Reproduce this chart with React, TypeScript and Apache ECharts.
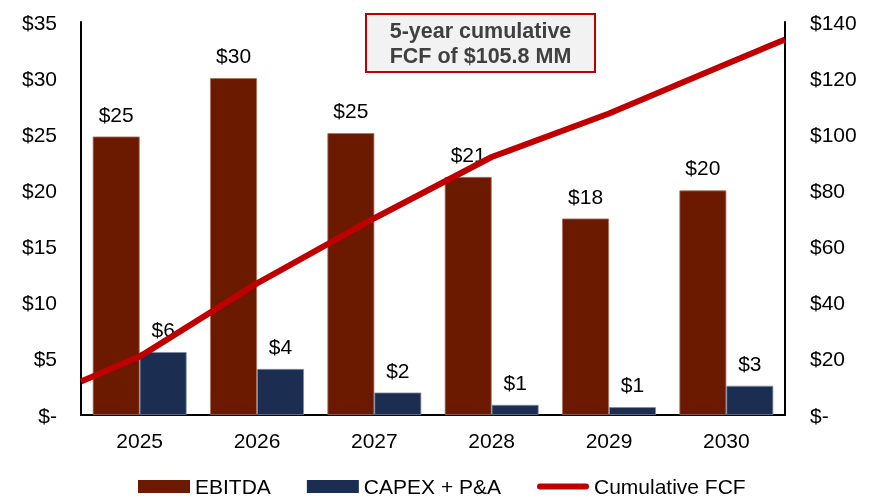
import React, { useEffect, useRef } from "react";
import * as echarts from "echarts";

const categories = ["2025", "2026", "2027", "2028", "2029", "2030"];
const ebitda = [24.8, 30.0, 25.1, 21.2, 17.5, 20.0];
const ebitdaLabels = ["$25", "$30", "$25", "$21", "$18", "$20"];
const capex = [5.6, 4.1, 2.0, 0.9, 0.7, 2.6];
const capexLabels = ["$6", "$4", "$2", "$1", "$1", "$3"];
// cumulative FCF line: left edge, each year's centre, right edge
const fcfValues = [11.9, 20.8, 46.9, 70.1, 91.9, 107.4, 125.0, 133.8];
const leftTicks = [0, 5, 10, 15, 20, 25, 30, 35];
const rightTicks = [0, 20, 40, 60, 80, 100, 120, 140];
const calloutLines = ["5-year cumulative", "FCF of $105.8 MM"];

const FONT = "'Liberation Sans', Arial, sans-serif";
const FS = 21;

export default function App() {
  const ref = useRef<HTMLDivElement>(null);
  useEffect(() => {
    if (!ref.current) return;
    const chart = echarts.init(ref.current, null, { renderer: "svg" });
    const n = categories.length;
    const fcfX = [0, ...categories.map((_, i) => i + 0.5), n];
    const fcfData = fcfValues.map((v, i) => [fcfX[i], v]);
    const money = (v: number) => (v === 0 ? "$-" : "$" + v);
    chart.setOption({
      animation: false,
      textStyle: { fontFamily: FONT },
      grid: { left: 81, right: 86, top: 22, bottom: 83 },
      legend: {
        top: 476,
        left: 138,
        padding: 0,
        itemWidth: 52,
        itemHeight: 13,
        itemGap: 36,
        itemStyle: { borderWidth: 0 },
        textStyle: { fontFamily: FONT, fontSize: FS, color: "#000", lineHeight: 21 },
        data: [
          { name: "EBITDA", icon: "rect" },
          { name: "CAPEX + P&A", icon: "rect" },
          {
            name: "Cumulative FCF",
            icon: "path://M3,0 L49,0 A3,3 0 0 1 49,6 L3,6 A3,3 0 0 1 3,0 Z",
            itemStyle: { color: "#C00000", borderWidth: 0 },
          },
        ],
      },
      xAxis: [
        {
          type: "category",
          data: categories,
          axisLine: { lineStyle: { color: "#000", width: 2 } },
          axisTick: { show: false },
          axisLabel: { fontSize: FS, color: "#000", margin: 15, fontFamily: FONT },
        },
        {
          type: "value",
          min: 0,
          max: n,
          show: false,
        },
      ],
      yAxis: [
        {
          type: "value",
          min: leftTicks[0],
          max: leftTicks[leftTicks.length - 1],
          interval: 5,
          splitLine: { show: false },
          axisLine: { show: true, lineStyle: { color: "#000", width: 2 } },
          axisTick: { show: false },
          axisLabel: { fontSize: FS, color: "#000", margin: 24, formatter: money, fontFamily: FONT },
        },
        {
          type: "value",
          min: rightTicks[0],
          max: rightTicks[rightTicks.length - 1],
          interval: 20,
          splitLine: { show: false },
          axisLine: { show: true, lineStyle: { color: "#000", width: 2 } },
          axisTick: { show: false },
          axisLabel: { fontSize: FS, color: "#000", margin: 25, formatter: money, fontFamily: FONT },
        },
      ],
      series: [
        {
          name: "EBITDA",
          type: "bar",
          data: ebitda,
          barGap: "0%",
          barCategoryGap: "20%",
          itemStyle: { color: "#6B1A00", borderColor: "#A8735F", borderWidth: 0.8 },
          label: {
            show: true,
            position: "top",
            distance: 12,
            fontSize: FS,
            color: "#000",
            fontFamily: FONT,
            formatter: (p: any) => ebitdaLabels[p.dataIndex],
          },
        },
        {
          name: "CAPEX + P&A",
          type: "bar",
          data: capex,
          itemStyle: { color: "#1B2D50", borderColor: "#7E8CA6", borderWidth: 0.8 },
          label: {
            show: true,
            position: "top",
            distance: 12,
            fontSize: FS,
            color: "#000",
            fontFamily: FONT,
            formatter: (p: any) => capexLabels[p.dataIndex],
          },
        },
        {
          name: "Cumulative FCF",
          type: "line",
          xAxisIndex: 1,
          yAxisIndex: 1,
          data: fcfData,
          symbol: "none",
          z: 5,
          lineStyle: { color: "#C00000", width: 6 },
          itemStyle: { color: "#C00000" },
        },
      ],
      graphic: [
        {
          type: "group",
          left: 365,
          top: 13,
          children: [
            {
              type: "rect",
              shape: { x: 0, y: 0, width: 229, height: 58 },
              style: { fill: "#F2F2F2", stroke: "#C00000", lineWidth: 2 },
            },
            {
              type: "text",
              x: 114.5,
              y: 29,
              style: {
                text: calloutLines.join("\n"),
                font: `bold 21.5px ${FONT}`,
                fill: "#404040",
                align: "center",
                verticalAlign: "middle",
                lineHeight: 25,
              },
            },
          ],
        },
      ],
    });
    return () => chart.dispose();
  }, []);
  return (
    <div
      ref={ref}
      style={{ position: "fixed", left: 0, top: 0, width: 871, height: 498 }}
    />
  );
}
